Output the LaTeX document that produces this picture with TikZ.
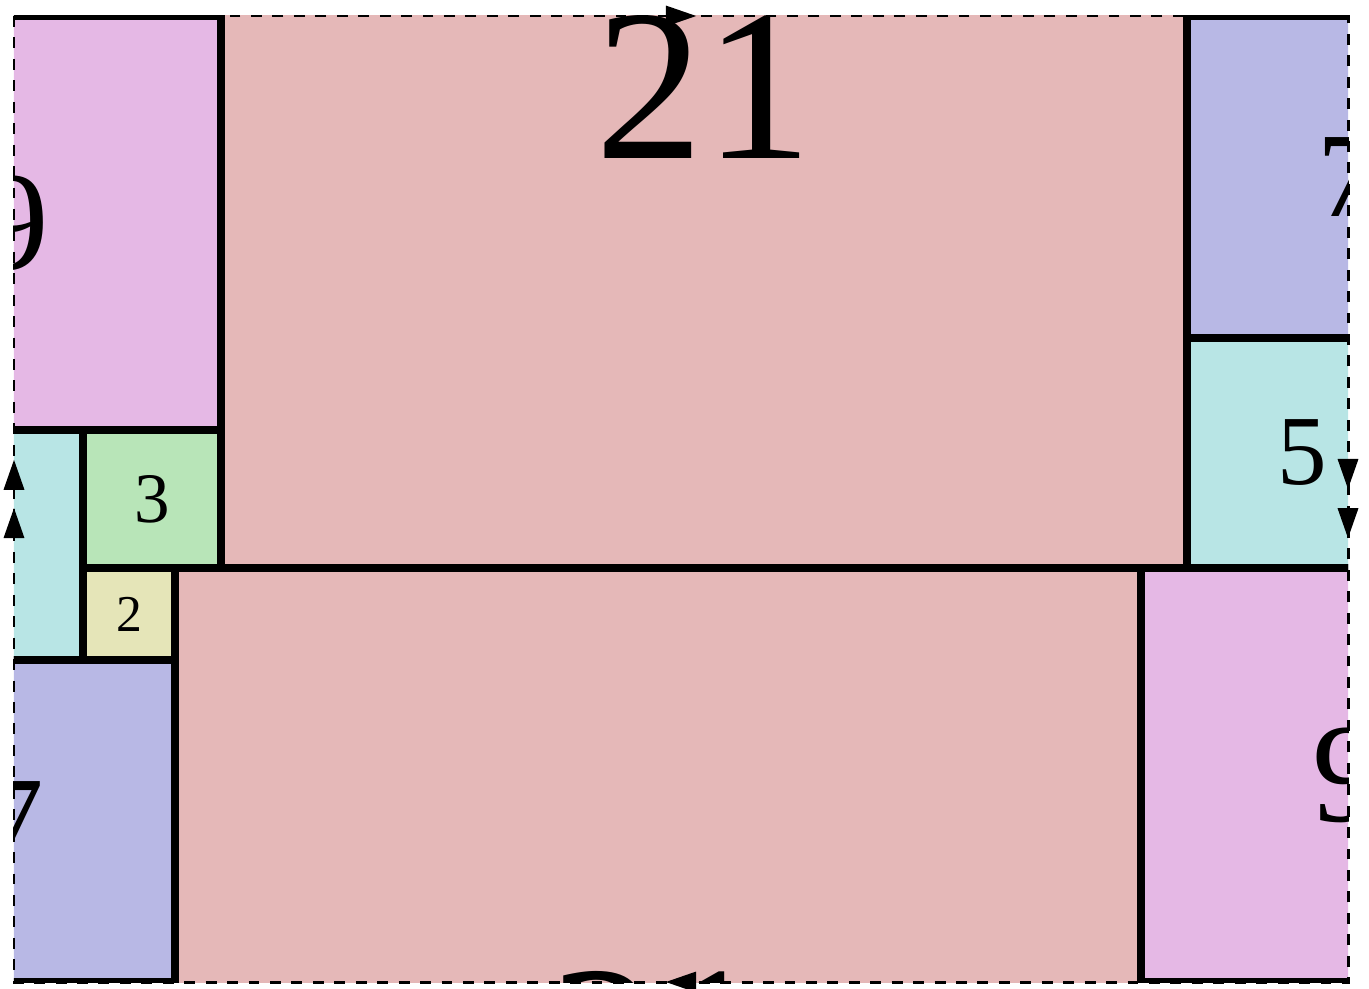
\documentclass[tikz,border=0pt]{standalone}
\usepackage{fontspec}
\setmainfont{Liberation Serif}
\definecolor{cred}{RGB}{229,184,184}
\definecolor{cpur}{RGB}{229,184,229}
\definecolor{cblu}{RGB}{184,184,229}
\definecolor{ccya}{RGB}{184,229,229}
\definecolor{cgrn}{RGB}{184,229,184}
\definecolor{cyel}{RGB}{229,229,184}
\begin{document}
\begin{tikzpicture}[x=0.46cm,y=-0.46cm,
  sq/.style={draw=black,line width=2.13pt},
  lbl/.style={inner sep=0pt,anchor=center,text=black},
  edgeline/.style={draw=black,line width=0.85pt,dash pattern=on 3.1pt off 3pt},
  tipmark/.style={fill=black}]
\useasboundingbox (-0.3043,-0.3478) rectangle (29.4565,21.1522);
\begin{scope}
  \clip (0,0) rectangle (29,21);
  % fills
  \fill[cred] (4.5,-9) rectangle (25.5,12);
  \fill[cred] (3.5,12) rectangle (24.5,33);
  \fill[cpur] (-4.5,0) rectangle (4.5,9);
  \fill[cpur] (24.5,12) rectangle (33.5,21);
  \fill[cblu] (25.5,0) rectangle (32.5,7);
  \fill[cblu] (-3.5,14) rectangle (3.5,21);
  \fill[ccya] (25.5,7) rectangle (30.5,12);
  \fill[ccya] (-3.5,9) rectangle (1.5,14);
  \fill[cgrn] (1.5,9) rectangle (4.5,12);
  \fill[cyel] (1.5,12) rectangle (3.5,14);
  % borders
  \draw[sq] (4.5,-9) rectangle (25.5,12);
  \draw[sq] (3.5,12) rectangle (24.5,33);
  \draw[sq] (-4.5,0) rectangle (4.5,9);
  \draw[sq] (24.5,12) rectangle (33.5,21);
  \draw[sq] (25.5,0) rectangle (32.5,7);
  \draw[sq] (-3.5,14) rectangle (3.5,21);
  \draw[sq] (25.5,7) rectangle (30.5,12);
  \draw[sq] (-3.5,9) rectangle (1.5,14);
  \draw[sq] (1.5,9) rectangle (4.5,12);
  \draw[sq] (1.5,12) rectangle (3.5,14);
  % labels
  \node[lbl,font=\fontsize{61.5}{62}\selectfont] (l21a) at (15,1.55) {21};
  \node[lbl,font=\fontsize{61.5}{62}\selectfont] (l21b) at (14,22.33) {21};
  \node[lbl,font=\fontsize{40.2}{41}\selectfont] (l9a) at (0,4.5) {9};
  \node[lbl,font=\fontsize{40.2}{41}\selectfont] (l9b) at (29,16.5) {9};
  \node[lbl,font=\fontsize{34.3}{35}\selectfont] (l7a) at (29,3.5) {7};
  \node[lbl,font=\fontsize{34.3}{35}\selectfont] (l7b) at (0,17.5) {7};
  \node[lbl,font=\fontsize{28.2}{29}\selectfont] (l5a) at (28,9.5) {5};
  \node[lbl,font=\fontsize{20.2}{21}\selectfont] (l3) at (3,10.5) {3};
  \node[lbl,font=\fontsize{14.7}{15}\selectfont] (l2) at (2.5,13) {2};
\end{scope}
% dashed boundary of the fundamental domain
\draw[edgeline] (0,0) rectangle (29,21);
% identification arrows
\fill[tipmark] (14.17,-0.228) -- (14.83,0) -- (14.17,0.228) -- cycle;
\fill[tipmark] (14.83,20.772) -- (14.17,21) -- (14.83,21.228) -- cycle;
\fill[tipmark] (-0.228,10.3) -- (0,9.65) -- (0.228,10.3) -- cycle;
\fill[tipmark] (-0.228,11.35) -- (0,10.7) -- (0.228,11.35) -- cycle;
\fill[tipmark] (28.772,9.63) -- (29,10.28) -- (29.228,9.63) -- cycle;
\fill[tipmark] (28.772,10.7) -- (29,11.35) -- (29.228,10.7) -- cycle;
\end{tikzpicture}
\end{document}
